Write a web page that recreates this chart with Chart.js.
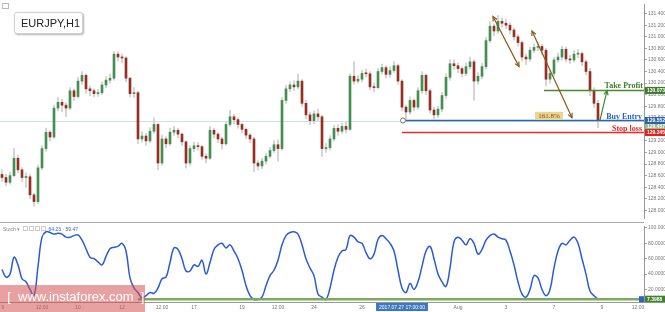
<!DOCTYPE html>
<html lang="en">
<head>
  <meta charset="UTF-8">
  <title>EURJPY,H1</title>
  <style>
    body { margin: 0; width: 665px; height: 312px; overflow: hidden; background: #fff; position: relative; font-family: 'Liberation Sans', Arial, sans-serif; }
    #main { position: absolute; left: 0; top: 0; }
    #stoch { position: absolute; left: 0; top: 222px; }
    .sym { position: absolute; left: 14px; top: 12px; width: 61px; height: 20px; border: 1px solid #d0d0d0; border-radius: 3px; box-shadow: 1px 1px 2px rgba(0,0,0,.3); background: #fff; font-size: 11px; line-height: 20px; padding-left: 6px; color: #222; }
    .icon { position: absolute; left: 2px; top: 3px; width: 5px; height: 4px; border: 1px solid #bbb; }
    .stochlbl { position: absolute; left: 3px; top: 226px; font-size: 5px; color: #888; }
    .stochlbl b { display: inline-block; width: 3px; height: 3px; border: 1px solid #ccc; margin-left: 1px; }
    .stochlbl span { color: #3b62d0; margin-left: 3px; }
    .wm { position: absolute; left: 0; top: 285px; width: 145px; height: 27px; background: rgba(214, 84, 84, 0.55); color: #fff; font-size: 13px; line-height: 24px; white-space: pre; }
  </style>
</head>
<body>
  <canvas id="main" width="665" height="222"></canvas>
  <canvas id="stoch" width="665" height="90"></canvas>
  <div class="icon"></div>
  <div class="sym">EURJPY,H1</div>
  <div class="stochlbl">Stoch ▾ <b></b><b></b><b></b><b></b><span>64.23 · 59.47</span></div>
  <div class="wm">  [  www.instaforex.com  ]</div>

  <script src="https://cdn.jsdelivr.net/npm/chart.js"></script>
  <script>
    // hourly candles
    const firstOpen = 128.62;
    const closes = [
      128.567,128.484,128.600,128.900,128.700,128.567,128.580,128.267,128.150,128.734,
      129.067,129.350,129.267,129.767,129.867,129.817,129.767,130.067,129.967,130.234,
      130.334,130.100,130.067,130.017,130.034,130.167,130.250,130.284,130.700,130.650,
      130.634,130.284,130.017,130.034,129.234,129.284,129.200,129.367,129.484,128.817,
      129.234,129.150,129.350,129.384,129.317,129.184,128.817,129.067,129.117,129.100,
      128.934,128.900,129.384,129.317,129.234,129.150,129.484,129.617,129.567,129.484,
      129.400,129.300,129.234,128.817,128.767,128.850,128.934,129.034,129.134,129.067,
      129.900,130.100,130.167,130.134,130.234,129.850,129.650,129.550,129.667,129.617,
      129.067,129.084,129.234,129.417,129.367,129.450,129.400,130.317,130.234,130.267,
      130.367,130.360,130.134,130.120,130.400,130.467,130.350,130.417,130.500,130.234,
      129.784,129.700,129.900,129.784,130.067,130.334,130.067,129.734,129.650,129.750,
      129.984,130.300,130.534,130.500,130.450,130.367,130.484,130.567,130.234,130.317,
      130.484,130.934,131.184,131.100,131.267,131.234,131.200,131.117,131.000,130.900,
      130.650,130.617,130.767,130.817,130.834,130.767,130.267,130.367,130.600,130.650,
      130.784,130.617,130.600,130.700,130.710,130.567,130.400,130.067,129.850,129.567
    ];
    const highs = [
      128.70,128.62,128.66,129.07,128.95,128.74,128.65,128.62,128.30,128.78,
      129.12,129.42,129.38,129.82,129.95,129.92,129.86,130.12,130.10,130.30,
      130.40,130.36,130.15,130.10,130.09,130.22,130.31,130.36,130.75,130.74,
      130.70,130.66,130.30,130.12,130.06,129.36,129.33,129.43,129.60,129.50,
      129.30,129.27,129.42,129.45,129.42,129.34,129.20,129.12,129.18,129.17,
      129.12,128.98,129.45,129.42,129.34,129.26,129.53,129.73,129.66,129.60,
      129.51,129.42,129.33,129.26,128.86,128.90,128.99,129.09,129.20,129.22,
      129.95,130.16,130.22,130.24,130.35,130.26,129.90,129.70,129.72,129.75,
      129.64,129.16,129.29,129.47,129.48,129.51,129.52,130.36,130.57,130.33,
      130.42,130.44,130.40,130.20,130.45,130.53,130.50,130.48,130.57,130.53,
      130.26,129.82,129.96,129.93,130.12,130.40,130.36,130.10,129.78,129.80,
      130.04,130.36,130.60,130.60,130.55,130.48,130.55,130.65,130.60,130.38,
      130.54,130.99,131.26,131.22,131.37,131.33,131.30,131.24,131.15,131.04,
      130.93,130.70,130.82,130.88,130.90,130.87,130.80,130.42,130.65,130.72,
      130.84,130.82,130.68,130.76,130.78,130.74,130.60,130.45,130.12,129.90
    ];
    const lows = [
      128.50,128.42,128.45,128.58,128.65,128.50,128.40,128.20,128.07,128.12,
      128.70,129.02,129.20,129.24,129.72,129.70,129.62,129.74,129.90,129.94,
      130.18,130.02,129.98,129.96,129.97,130.00,130.12,130.20,130.25,130.58,
      130.55,130.22,129.96,129.95,129.15,129.18,129.12,129.17,129.33,128.70,
      128.78,129.08,129.12,129.30,129.25,129.12,128.73,128.78,129.02,129.04,
      128.88,128.82,128.88,129.25,129.17,129.06,129.12,129.45,129.50,129.42,
      129.34,129.24,129.17,128.67,128.70,128.72,128.80,128.90,129.00,128.85,
      129.04,129.85,130.05,130.07,130.10,129.80,129.58,129.48,129.50,129.55,
      128.93,129.00,129.04,129.20,129.30,129.33,129.34,129.38,130.18,130.20,
      130.22,130.30,130.08,130.05,130.10,130.36,130.29,130.30,130.38,130.18,
      129.72,129.57,129.66,129.72,129.75,130.02,130.00,129.68,129.58,129.60,
      129.70,129.94,130.25,130.44,130.38,130.30,130.33,130.44,129.90,130.18,
      130.27,130.44,130.90,131.02,131.06,131.16,131.14,131.05,130.94,130.84,
      130.58,130.52,130.58,130.72,130.76,130.70,130.15,130.20,130.32,130.56,
      130.60,130.56,130.54,130.56,130.64,130.50,130.34,129.98,129.78,129.43
    ];
    // stochastic %K
    const stochK = [
      46,36,40,62,52,34,30,20,12,50,
      88,95,94,92,93,92,88,88,90,91,
      84,73,62,60,56,52,63,73,75,76,
      80,70,35,22,16,9,12,16,15,22,
      34,36,55,74,72,60,44,44,52,50,
      58,40,55,72,78,80,74,78,70,60,
      45,25,12,7,7,10,25,38,45,58,
      78,90,94,95,92,78,60,48,38,14,
      10,7,22,45,62,70,72,90,88,82,
      80,68,60,66,85,90,86,80,70,45,
      22,16,28,20,30,50,70,76,60,40,
      30,24,48,82,88,84,78,86,80,66,
      72,84,90,92,88,86,84,70,52,30,
      14,10,20,38,35,20,12,20,48,70,
      80,78,84,88,80,60,40,18,12,7.4
    ];
    const slotCount = 161; // 150 bars + empty space on the right
    const slots = Array.from({ length: slotCount }, (_, i) => i);

    const priceTicks = [128.0,128.2,128.4,128.6,128.8,129.0,129.2,129.4,129.6,129.8,130.0,130.2,130.4,130.6,130.8,131.0,131.2,131.4];
    const stochTicks = [20, 40, 60, 80, 100];
    const xTickIdx  = [0, 10, 19, 30, 40, 48, 60, 69, 78, 90, 100, 114, 126, 138, 150, 159];
    const xTickText = ['9','12:00','10','12','12:00','17','19','12:00','24','26','2017.07.27 17:00:00','Aug','3','7','9','12:00'];
    const xMarked = 10; // highlighted time label

    const takeProfit = 130.073;
    const buyEntry = 129.552;
    const stopLoss = 129.345;
    const bidPrice = 129.457;
    const stochLevel = 7.3988;
    // annotations in (bar index, price)
    const fiboArrows = [[122.75, 131.35, 129.25, 130.484], [132.5, 131.10, 142.5, 129.60]];
    const tpArrow = [149.5, 129.56, 151.25, 130.07];

    const opens = closes.map((c, i) => i === 0 ? firstOpen : closes[i - 1]);

    const axisFont = { family: 'Liberation Sans', size: 5 };

    function arrowHead(ctx, x1, y1, x2, y2, size) {
      const a = Math.atan2(y2 - y1, x2 - x1);
      ctx.beginPath();
      ctx.moveTo(x2 - size * Math.cos(a - 0.45), y2 - size * Math.sin(a - 0.45));
      ctx.lineTo(x2, y2);
      ctx.lineTo(x2 - size * Math.cos(a + 0.45), y2 - size * Math.sin(a + 0.45));
      ctx.stroke();
    }

    function tag(ctx, left, yPix, text, bg) {
      ctx.fillStyle = bg;
      ctx.fillRect(left, yPix - 3.5, 665 - left, 7);
      ctx.fillStyle = '#fff';
      ctx.font = 'bold 5px Liberation Sans';
      ctx.textBaseline = 'middle';
      ctx.textAlign = 'left';
      ctx.fillText(text, left + 2, yPix + 0.5);
    }

    const mainMarks = {
      id: 'mainMarks',
      beforeDatasetsDraw(chart) {
        const { ctx, chartArea: a, scales: { y } } = chart;
        const yy = Math.round(y.getPixelForValue(buyEntry)) + 0.5;
        ctx.save();
        ctx.strokeStyle = '#cce4df';
        ctx.lineWidth = 1;
        ctx.beginPath(); ctx.moveTo(a.left, yy); ctx.lineTo(a.right, yy); ctx.stroke();
        ctx.restore();
      },
      afterDatasetsDraw(chart) {
        const { ctx, chartArea: a, scales: { x, y } } = chart;
        ctx.save();
        // level lines
        const hline = (from, v, color) => {
          ctx.strokeStyle = color; ctx.lineWidth = 1.5;
          ctx.beginPath(); ctx.moveTo(x.getPixelForValue(from), y.getPixelForValue(v)); ctx.lineTo(a.right, y.getPixelForValue(v)); ctx.stroke();
        };
        hline(100.25, buyEntry, '#2b66b5');
        hline(100, stopLoss, '#f02a2a');
        hline(135.5, takeProfit, '#4b8a2c');
        // start marker
        ctx.fillStyle = '#fff'; ctx.strokeStyle = '#777'; ctx.lineWidth = 1;
        ctx.beginPath(); ctx.arc(x.getPixelForValue(100.25), y.getPixelForValue(buyEntry), 2.5, 0, Math.PI * 2); ctx.fill(); ctx.stroke();
        // fibo arrows
        ctx.strokeStyle = '#8b5a1b'; ctx.lineWidth = 1.2;
        fiboArrows.forEach(([i1, p1, i2, p2]) => {
          const x1 = x.getPixelForValue(i1), y1 = y.getPixelForValue(p1);
          const x2 = x.getPixelForValue(i2), y2 = y.getPixelForValue(p2);
          ctx.beginPath(); ctx.moveTo(x1, y1); ctx.lineTo(x2, y2); ctx.stroke();
          arrowHead(ctx, x1, y1, x2, y2, 5);
          arrowHead(ctx, x2, y2, x1, y1, 5);
        });
        // take profit arrow
        ctx.strokeStyle = '#3f8a2c'; ctx.lineWidth = 1.2;
        const gx1 = x.getPixelForValue(tpArrow[0]), gy1 = y.getPixelForValue(tpArrow[1]);
        const gx2 = x.getPixelForValue(tpArrow[2]), gy2 = y.getPixelForValue(tpArrow[3]);
        ctx.beginPath(); ctx.moveTo(gx1, gy1); ctx.lineTo(gx2, gy2); ctx.stroke();
        arrowHead(ctx, gx1, gy1, gx2, gy2, 5);
        // 161.8% box
        const bx = x.getPixelForValue(136.75), by = y.getPixelForValue(129.634);
        ctx.fillStyle = '#ebd58e';
        ctx.fillRect(bx - 14, by - 4, 28, 8);
        ctx.fillStyle = '#7a4a12';
        ctx.font = '7px Liberation Serif';
        ctx.textAlign = 'center'; ctx.textBaseline = 'middle';
        ctx.fillText('161.8%', bx, by + 0.5);
        // level names
        ctx.font = 'bold 8px Liberation Serif';
        ctx.textAlign = 'right'; ctx.textBaseline = 'alphabetic';
        ctx.fillStyle = '#3f7d2a'; ctx.fillText('Take Profit', a.right - 1, y.getPixelForValue(takeProfit) - 2);
        ctx.fillStyle = '#2b64b4'; ctx.fillText('Buy Entry', a.right - 2, y.getPixelForValue(buyEntry) - 2);
        ctx.fillStyle = '#e8262a'; ctx.fillText('Stop loss', a.right - 2, y.getPixelForValue(stopLoss) - 2);
        ctx.restore();
      },
      afterDraw(chart) {
        const { ctx, chartArea: a, scales: { y } } = chart;
        ctx.save();
        tag(ctx, a.right + 1, y.getPixelForValue(takeProfit), takeProfit.toFixed(3), '#3e7a2c');
        tag(ctx, a.right + 1, y.getPixelForValue(bidPrice), bidPrice.toFixed(3), '#8fbf8a');
        tag(ctx, a.right + 1, y.getPixelForValue(buyEntry), buyEntry.toFixed(3), '#2b62a8');
        tag(ctx, a.right + 1, y.getPixelForValue(stopLoss), stopLoss.toFixed(3), '#e52222');
        ctx.restore();
      }
    };

    const stochMarks = {
      id: 'stochMarks',
      afterDatasetsDraw(chart) {
        const { ctx, chartArea: a, scales: { x, y } } = chart;
        ctx.save();
        ctx.strokeStyle = '#7dab5d'; ctx.lineWidth = 2.5;
        const yy = y.getPixelForValue(stochLevel);
        ctx.beginPath(); ctx.moveTo(x.getPixelForValue(34), yy); ctx.lineTo(a.right, yy); ctx.stroke();
        ctx.strokeStyle = '#aaa'; ctx.lineWidth = 1;
        ctx.beginPath(); ctx.moveTo(0, 0.5); ctx.lineTo(a.right, 0.5); ctx.stroke();
        ctx.restore();
      },
      afterDraw(chart) {
        const { ctx, chartArea: a, scales: { x, y } } = chart;
        ctx.save();
        const yy = y.getPixelForValue(stochLevel);
        tag(ctx, a.right + 1, yy, stochLevel.toFixed(4), '#3f7f2f');
        ctx.fillStyle = '#2f62c4';
        ctx.fillRect(a.right - 5, yy - 3, 5, 6);
        // time labels under the panel
        ctx.font = '5px Liberation Sans';
        ctx.textAlign = 'center';
        ctx.textBaseline = 'middle';
        xTickIdx.forEach((idx, k) => {
          const px = Math.max(x.getPixelForValue(idx), 3);
          const t = xTickText[k];
          if (k === xMarked) {
            const w = ctx.measureText(t).width + 6;
            ctx.fillStyle = '#3b77c2';
            ctx.fillRect(px - w / 2, a.bottom + 1, w, 8);
            ctx.fillStyle = '#fff';
          } else {
            ctx.fillStyle = '#777';
          }
          ctx.fillText(t, px, a.bottom + 5.5);
        });
        ctx.restore();
      }
    };

    const rightAxis = (extra) => Object.assign({
      position: 'right',
      afterFit: (s) => { s.width = 21; },
      grid: { drawOnChartArea: false, drawTicks: true, tickLength: 3, color: '#aaa' },
      border: { color: '#999' },
      ticks: { font: axisFont, color: '#777', padding: 1 }
    }, extra);

    new Chart(document.getElementById('main'), {
      type: 'bar',
      data: {
        labels: slots,
        datasets: [
          {
            data: lows.map((l, i) => [l, highs[i]]),
            backgroundColor: '#cdcdcd',
            barThickness: 1,
            grouped: false,
            order: 2
          },
          {
            data: closes.map((c, i) => [opens[i], c]),
            backgroundColor: closes.map((c, i) => c >= opens[i] ? '#438f52' : '#962f22'),
            barThickness: 2,
            minBarLength: 1,
            grouped: false,
            order: 1
          }
        ]
      },
      options: {
        responsive: false,
        animation: false,
        layout: { padding: 0 },
        plugins: { legend: { display: false }, tooltip: { enabled: false } },
        scales: {
          x: { display: false, offset: true },
          y: rightAxis({
            min: 127.867,
            max: 131.567,
            afterBuildTicks: (s) => { s.ticks = priceTicks.map(v => ({ value: v })); },
            ticks: { font: axisFont, color: '#777', padding: 1, callback: (v) => Number(v).toFixed(3) }
          })
        }
      },
      plugins: [mainMarks]
    });

    new Chart(document.getElementById('stoch'), {
      type: 'line',
      data: {
        labels: slots,
        datasets: [{
          data: stochK,
          borderColor: '#2a5ad6',
          borderWidth: 1.5,
          pointRadius: 0,
          tension: 0.4,
          fill: false
        }]
      },
      options: {
        responsive: false,
        animation: false,
        layout: { padding: { top: 1 } },
        plugins: { legend: { display: false }, tooltip: { enabled: false } },
        scales: {
          x: {
            offset: true,
            afterFit: (s) => { s.height = 10; },
            grid: { display: false },
            border: { display: true, color: '#999' },
            ticks: { display: false }
          },
          y: rightAxis({
            min: 3.75,
            max: 102.5,
            afterBuildTicks: (s) => { s.ticks = stochTicks.map(v => ({ value: v })); },
            ticks: { font: axisFont, color: '#777', padding: 1, callback: (v) => Number(v).toFixed(4) }
          })
        }
      },
      plugins: [stochMarks]
    });
  </script>
</body>
</html>
